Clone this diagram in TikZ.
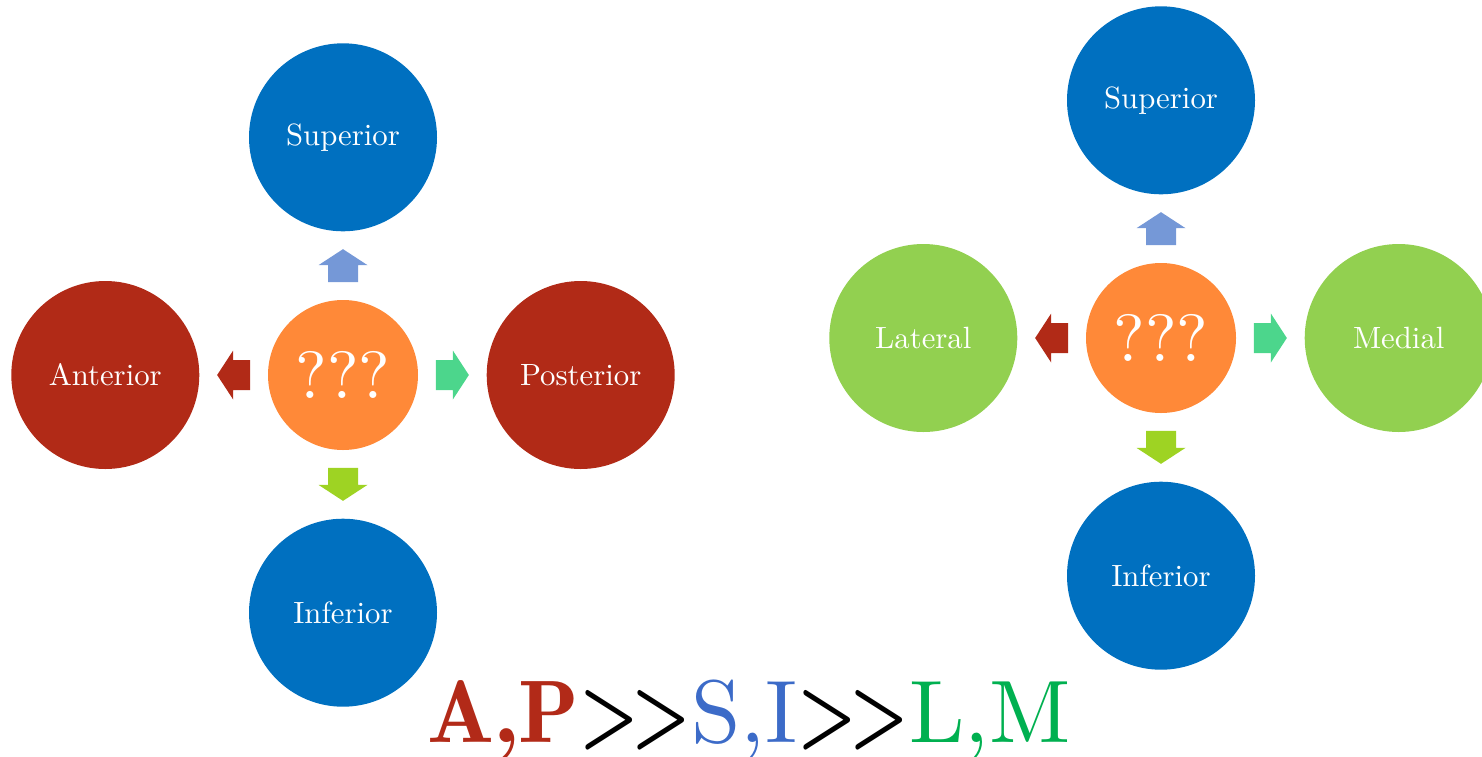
\documentclass[tikz,border=0pt]{standalone}
\usepackage{fontspec}
\usepackage{xcolor}
\usepackage{graphicx}
\usepackage{tikz}
\usetikzlibrary{positioning,calc}

\setmainfont{lmroman10-regular.otf}[BoldFont=lmromandemi10-regular.otf]

\definecolor{dirblue}{RGB}{0,112,192}
\definecolor{dirred}{RGB}{177,42,23}
\definecolor{dirgreen}{RGB}{146,208,80}
\definecolor{hubcol}{RGB}{255,137,56}
\definecolor{arrup}{RGB}{117,152,215}
\definecolor{arrdown}{RGB}{158,211,35}
\definecolor{arrright}{RGB}{76,214,140}
\definecolor{txtred}{RGB}{178,42,24}
\definecolor{txtblue}{RGB}{60,107,200}
\definecolor{txtgreen}{RGB}{0,176,80}

% a narrow "greater than" for the ranking line
\newcommand{\narrowgt}{\scalebox{0.75}[1]{\bfseries >}}
\newcommand{\muchgt}{\narrowgt\kern-0.08em\narrowgt}

\begin{document}
\begin{tikzpicture}[
  node distance=1.36cm,
  dirnode/.style={circle, minimum size=3.76cm, inner sep=0pt, text=white, font=\fontsize{17.5}{21}\selectfont},
  hubnode/.style={circle, fill=hubcol, minimum size=3cm, inner sep=0pt, text=white, font=\fontsize{38}{44}\selectfont},
  blockarr/.pic={\fill (-0.33,-0.3) -- (0.01,-0.3) -- (0.01,-0.49) -- (0.33,0) -- (0.01,0.49) -- (0.01,0.3) -- (-0.33,0.3) -- cycle;}
]
\useasboundingbox (0,0) rectangle (29.64,-15.12);

% anterior / posterior view
\node[hubnode] (qL) at (6.86,-7.50) {???};
\node[dirnode, fill=dirblue, above=of qL] (supL) {Superior};
\node[dirnode, fill=dirblue, below=of qL] (infL) {Inferior};
\node[dirnode, fill=dirred, left=of qL] (ant) {Anterior};
\node[dirnode, fill=dirred, right=of qL] (post) {Posterior};

\pic[fill=arrup, rotate=90] at ($(qL.north)!0.5!(supL.south)$) {blockarr};
\pic[fill=arrdown, rotate=-90] at ($(qL.south)!0.5!(infL.north)$) {blockarr};
\pic[fill=dirred, rotate=180] at ($(qL.west)!0.5!(ant.east)$) {blockarr};
\pic[fill=arrright] at ($(qL.east)!0.5!(post.west)$) {blockarr};

% lateral / medial view
\node[hubnode] (qR) at (23.22,-6.76) {???};
\node[dirnode, fill=dirblue, above=of qR] (supR) {Superior};
\node[dirnode, fill=dirblue, below=of qR] (infR) {Inferior};
\node[dirnode, fill=dirgreen, left=of qR] (lat) {Lateral};
\node[dirnode, fill=dirgreen, right=of qR] (med) {Medial};

\pic[fill=arrup, rotate=90] at ($(qR.north)!0.5!(supR.south)$) {blockarr};
\pic[fill=arrdown, rotate=-90] at ($(qR.south)!0.5!(infR.north)$) {blockarr};
\pic[fill=dirred, rotate=180] at ($(qR.west)!0.5!(lat.east)$) {blockarr};
\pic[fill=arrright] at ($(qR.east)!0.5!(med.west)$) {blockarr};

\node[anchor=base, inner sep=0pt, font=\fontsize{50.5}{56}\selectfont] (order) at (14.98,-14.84)
  {{\bfseries\color{txtred}A,P}\muchgt{\color{txtblue}S,I}\muchgt{\color{txtgreen}L,M}};

\end{tikzpicture}
\end{document}
